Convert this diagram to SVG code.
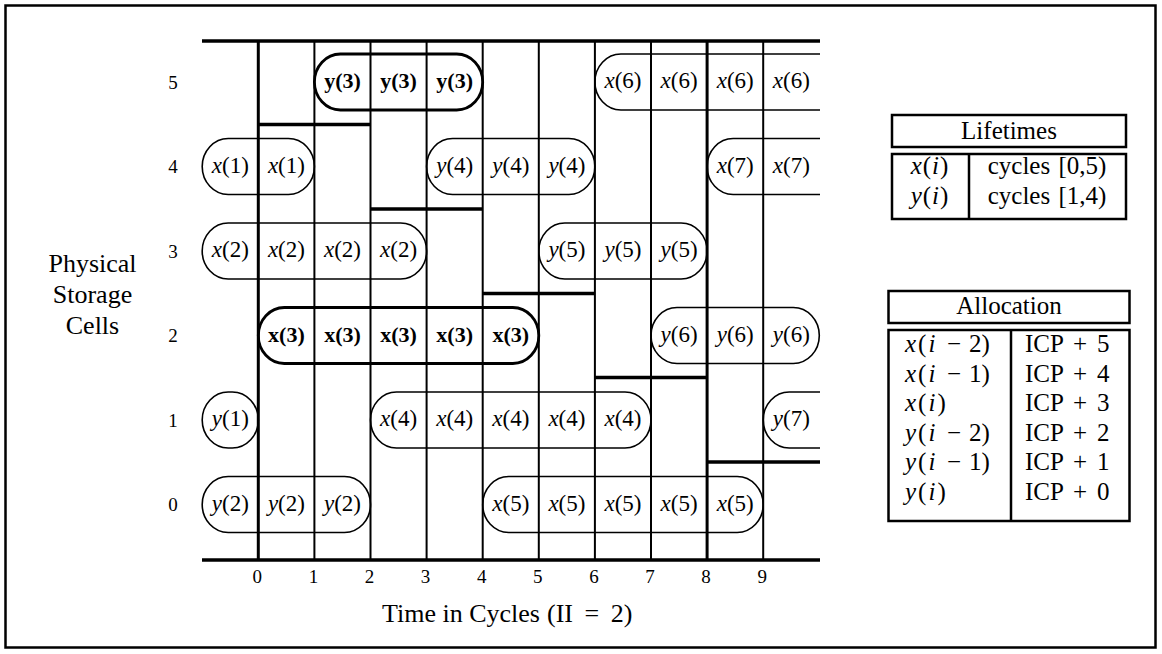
<svg xmlns="http://www.w3.org/2000/svg" width="1162" height="654" viewBox="0 0 1162 654">
  <style>
    .frame { fill: none; stroke: #000; stroke-width: 2.5; }
    .axis { stroke: #000; stroke-width: 3.4; fill: none; }
    .grid { stroke: #000; stroke-width: 2; fill: none; }
    .grid-major { stroke: #000; stroke-width: 3; fill: none; }
    .part { stroke: #000; stroke-width: 3.4; fill: none; }
    .life { fill: none; stroke: #000; stroke-width: 1.6; }
    .life-bold { fill: none; stroke: #000; stroke-width: 2.8; }
    .lbl { font-family: "Liberation Serif", "Times New Roman", serif; font-size: 23px; text-anchor: middle; fill: #000; }
    .lbl-bold { font-family: "Liberation Serif", "Times New Roman", serif; font-size: 22px; font-weight: bold; text-anchor: middle; fill: #000; }
    .it { font-style: italic; }
    .num { font-family: "Liberation Serif", "Times New Roman", serif; font-size: 19px; text-anchor: middle; fill: #000; }
    .big { font-family: "Liberation Serif", "Times New Roman", serif; font-size: 26px; text-anchor: middle; fill: #000; }
    .cap { font-family: "Liberation Serif", "Times New Roman", serif; font-size: 26px; fill: #000; }
    .tbl { font-family: "Liberation Serif", "Times New Roman", serif; font-size: 25px; fill: #000; }
    .box { fill: none; stroke: #000; stroke-width: 2.5; }
  </style>
  <defs>
    <clipPath id="plot">
      <rect x="195" y="30" width="625" height="540"/>
    </clipPath>
  </defs>

  <rect class="frame" x="5.5" y="5.5" width="1150" height="642"/>

  <!-- time grid -->
  <g id="grid">
    <line class="axis" x1="202" y1="41" x2="820" y2="41"/>
    <line class="axis" x1="202" y1="560" x2="820" y2="560"/>
    <line class="grid-major" x1="258.3" y1="41" x2="258.3" y2="560"/>
    <line class="grid" x1="314.4" y1="41" x2="314.4" y2="560"/>
    <line class="grid" x1="370.5" y1="41" x2="370.5" y2="560"/>
    <line class="grid" x1="426.6" y1="41" x2="426.6" y2="560"/>
    <line class="grid" x1="482.7" y1="41" x2="482.7" y2="560"/>
    <line class="grid" x1="538.8" y1="41" x2="538.8" y2="560"/>
    <line class="grid" x1="594.9" y1="41" x2="594.9" y2="560"/>
    <line class="grid" x1="651" y1="41" x2="651" y2="560"/>
    <line class="grid-major" x1="707.1" y1="41" x2="707.1" y2="560"/>
    <line class="grid" x1="763.2" y1="41" x2="763.2" y2="560"/>
  </g>

  <!-- register boundaries (staircase) -->
  <g id="connectors">
    <line class="part" x1="258.3" y1="124.5" x2="370.5" y2="124.5"/>
    <line class="part" x1="370.5" y1="209" x2="482.7" y2="209"/>
    <line class="part" x1="482.7" y1="293.5" x2="594.9" y2="293.5"/>
    <line class="part" x1="594.9" y1="377.5" x2="707.1" y2="377.5"/>
    <line class="part" x1="707.1" y1="462" x2="820" y2="462"/>
  </g>

  <!-- row numbers -->
  <g id="rows">
    <text class="num" x="173" y="88.5">5</text>
    <text class="num" x="173" y="173">4</text>
    <text class="num" x="173" y="257.5">3</text>
    <text class="num" x="173" y="342">2</text>
    <text class="num" x="173" y="426.5">1</text>
    <text class="num" x="173" y="511">0</text>
  </g>

  <!-- cycle numbers -->
  <g id="cycles">
    <text class="num" x="257.3" y="583.3">0</text>
    <text class="num" x="313.4" y="583.3">1</text>
    <text class="num" x="369.5" y="583.3">2</text>
    <text class="num" x="425.6" y="583.3">3</text>
    <text class="num" x="481.7" y="583.3">4</text>
    <text class="num" x="537.8" y="583.3">5</text>
    <text class="num" x="593.9" y="583.3">6</text>
    <text class="num" x="650" y="583.3">7</text>
    <text class="num" x="706.1" y="583.3">8</text>
    <text class="num" x="762.2" y="583.3">9</text>
  </g>

  <g id="y-label">
    <text class="big" x="92.5" y="271.7">Physical</text>
    <text class="big" x="92.5" y="303">Storage</text>
    <text class="big" x="92.5" y="334.3">Cells</text>
  </g>

  <g id="x-label">
    <text class="cap" y="621.7"><tspan x="382">Time in Cycles</tspan><tspan x="547" word-spacing="5">(II = 2)</tspan></text>
  </g>

  <!-- lifetimes, row 5 -->
  <g id="y3">
    <rect class="life-bold" x="314.4" y="54" width="168.3" height="56" rx="26" ry="28"/>
    <text class="lbl-bold" x="342.5" y="88">y(3)</text>
    <text class="lbl-bold" x="398.6" y="88">y(3)</text>
    <text class="lbl-bold" x="454.7" y="88">y(3)</text>
  </g>
  <g id="x6">
    <rect class="life" clip-path="url(#plot)" x="594.9" y="54" width="260" height="56" rx="26" ry="28"/>
    <text class="lbl" x="623" y="88"><tspan class="it">x</tspan>(6)</text>
    <text class="lbl" x="679.1" y="88"><tspan class="it">x</tspan>(6)</text>
    <text class="lbl" x="735.2" y="88"><tspan class="it">x</tspan>(6)</text>
    <text class="lbl" x="791.3" y="88"><tspan class="it">x</tspan>(6)</text>
  </g>

  <!-- row 4 -->
  <g id="x1">
    <rect class="life" x="202.2" y="138.5" width="112.2" height="56" rx="26" ry="28"/>
    <text class="lbl" x="230.3" y="172.5"><tspan class="it">x</tspan>(1)</text>
    <text class="lbl" x="286.4" y="172.5"><tspan class="it">x</tspan>(1)</text>
  </g>
  <g id="y4">
    <rect class="life" x="426.6" y="138.5" width="168.3" height="56" rx="26" ry="28"/>
    <text class="lbl" x="454.7" y="172.5"><tspan class="it">y</tspan>(4)</text>
    <text class="lbl" x="510.8" y="172.5"><tspan class="it">y</tspan>(4)</text>
    <text class="lbl" x="566.9" y="172.5"><tspan class="it">y</tspan>(4)</text>
  </g>
  <g id="x7">
    <rect class="life" clip-path="url(#plot)" x="707.1" y="138.5" width="160" height="56" rx="26" ry="28"/>
    <text class="lbl" x="735.2" y="172.5"><tspan class="it">x</tspan>(7)</text>
    <text class="lbl" x="791.3" y="172.5"><tspan class="it">x</tspan>(7)</text>
  </g>

  <!-- row 3 -->
  <g id="x2">
    <rect class="life" x="202.2" y="223" width="224.4" height="56" rx="26" ry="28"/>
    <text class="lbl" x="230.3" y="257"><tspan class="it">x</tspan>(2)</text>
    <text class="lbl" x="286.4" y="257"><tspan class="it">x</tspan>(2)</text>
    <text class="lbl" x="342.5" y="257"><tspan class="it">x</tspan>(2)</text>
    <text class="lbl" x="398.6" y="257"><tspan class="it">x</tspan>(2)</text>
  </g>
  <g id="y5">
    <rect class="life" x="538.8" y="223" width="168.3" height="56" rx="26" ry="28"/>
    <text class="lbl" x="566.9" y="257"><tspan class="it">y</tspan>(5)</text>
    <text class="lbl" x="623" y="257"><tspan class="it">y</tspan>(5)</text>
    <text class="lbl" x="679.1" y="257"><tspan class="it">y</tspan>(5)</text>
  </g>

  <!-- row 2 -->
  <g id="x3">
    <rect class="life-bold" x="258.3" y="307.5" width="280.5" height="56" rx="26" ry="28"/>
    <text class="lbl-bold" x="286.4" y="341.5">x(3)</text>
    <text class="lbl-bold" x="342.5" y="341.5">x(3)</text>
    <text class="lbl-bold" x="398.6" y="341.5">x(3)</text>
    <text class="lbl-bold" x="454.7" y="341.5">x(3)</text>
    <text class="lbl-bold" x="510.8" y="341.5">x(3)</text>
  </g>
  <g id="y6">
    <rect class="life" x="651" y="307.5" width="168.3" height="56" rx="26" ry="28"/>
    <text class="lbl" x="679.1" y="341.5"><tspan class="it">y</tspan>(6)</text>
    <text class="lbl" x="735.2" y="341.5"><tspan class="it">y</tspan>(6)</text>
    <text class="lbl" x="791.3" y="341.5"><tspan class="it">y</tspan>(6)</text>
  </g>

  <!-- row 1 -->
  <g id="y1">
    <rect class="life" x="202.2" y="392" width="56.1" height="56" rx="26" ry="28"/>
    <text class="lbl" x="230.3" y="426"><tspan class="it">y</tspan>(1)</text>
  </g>
  <g id="x4">
    <rect class="life" x="370.5" y="392" width="280.5" height="56" rx="26" ry="28"/>
    <text class="lbl" x="398.6" y="426"><tspan class="it">x</tspan>(4)</text>
    <text class="lbl" x="454.7" y="426"><tspan class="it">x</tspan>(4)</text>
    <text class="lbl" x="510.8" y="426"><tspan class="it">x</tspan>(4)</text>
    <text class="lbl" x="566.9" y="426"><tspan class="it">x</tspan>(4)</text>
    <text class="lbl" x="623" y="426"><tspan class="it">x</tspan>(4)</text>
  </g>
  <g id="y7">
    <rect class="life" clip-path="url(#plot)" x="763.2" y="392" width="120" height="56" rx="26" ry="28"/>
    <text class="lbl" x="791.3" y="426"><tspan class="it">y</tspan>(7)</text>
  </g>

  <!-- row 0 -->
  <g id="y2">
    <rect class="life" x="202.2" y="476.5" width="168.3" height="56" rx="26" ry="28"/>
    <text class="lbl" x="230.3" y="510.5"><tspan class="it">y</tspan>(2)</text>
    <text class="lbl" x="286.4" y="510.5"><tspan class="it">y</tspan>(2)</text>
    <text class="lbl" x="342.5" y="510.5"><tspan class="it">y</tspan>(2)</text>
  </g>
  <g id="x5">
    <rect class="life" x="482.7" y="476.5" width="280.5" height="56" rx="26" ry="28"/>
    <text class="lbl" x="510.8" y="510.5"><tspan class="it">x</tspan>(5)</text>
    <text class="lbl" x="566.9" y="510.5"><tspan class="it">x</tspan>(5)</text>
    <text class="lbl" x="623" y="510.5"><tspan class="it">x</tspan>(5)</text>
    <text class="lbl" x="679.1" y="510.5"><tspan class="it">x</tspan>(5)</text>
    <text class="lbl" x="735.2" y="510.5"><tspan class="it">x</tspan>(5)</text>
  </g>

  <!-- lifetimes table -->
  <g id="lifetimes">
    <rect class="box" x="892" y="115" width="234" height="32"/>
    <text class="tbl" x="1009" y="139" text-anchor="middle">Lifetimes</text>
    <rect class="box" x="892" y="154" width="234" height="65"/>
    <line class="box" x1="969" y1="154" x2="969" y2="219"/>
    <text class="tbl" x="930" y="174" text-anchor="middle" letter-spacing="1"><tspan class="it">x</tspan>(<tspan class="it">i</tspan>)</text>
    <text class="tbl" x="930" y="204" text-anchor="middle" letter-spacing="1"><tspan class="it">y</tspan>(<tspan class="it">i</tspan>)</text>
    <text class="tbl" x="1047" y="174" text-anchor="middle" word-spacing="2">cycles [0,5)</text>
    <text class="tbl" x="1047" y="204" text-anchor="middle" word-spacing="2">cycles [1,4)</text>
  </g>

  <!-- allocation table -->
  <g id="allocation">
    <rect class="box" x="888.5" y="291" width="241" height="32"/>
    <text class="tbl" x="1009" y="313.5" text-anchor="middle">Allocation</text>
    <rect class="box" x="888.5" y="330" width="241" height="191"/>
    <line class="box" x1="1011" y1="330" x2="1011" y2="521"/>
    <text class="tbl" y="352" letter-spacing="2"><tspan x="905" class="it">x</tspan>(<tspan class="it">i</tspan><tspan x="947" letter-spacing="0">−</tspan><tspan x="969" letter-spacing="0">2)</tspan></text>
    <text class="tbl" y="381.5" letter-spacing="2"><tspan x="905" class="it">x</tspan>(<tspan class="it">i</tspan><tspan x="947" letter-spacing="0">−</tspan><tspan x="969" letter-spacing="0">1)</tspan></text>
    <text class="tbl" y="411" letter-spacing="2"><tspan x="905" class="it">x</tspan>(<tspan class="it">i</tspan>)</text>
    <text class="tbl" y="440.5" letter-spacing="2"><tspan x="905" class="it">y</tspan>(<tspan class="it">i</tspan><tspan x="947" letter-spacing="0">−</tspan><tspan x="969" letter-spacing="0">2)</tspan></text>
    <text class="tbl" y="470" letter-spacing="2"><tspan x="905" class="it">y</tspan>(<tspan class="it">i</tspan><tspan x="947" letter-spacing="0">−</tspan><tspan x="969" letter-spacing="0">1)</tspan></text>
    <text class="tbl" y="499.5" letter-spacing="2"><tspan x="905" class="it">y</tspan>(<tspan class="it">i</tspan>)</text>
    <text class="tbl" y="352"><tspan x="1025">ICP</tspan><tspan x="1073">+</tspan><tspan x="1097">5</tspan></text>
    <text class="tbl" y="381.5"><tspan x="1025">ICP</tspan><tspan x="1073">+</tspan><tspan x="1097">4</tspan></text>
    <text class="tbl" y="411"><tspan x="1025">ICP</tspan><tspan x="1073">+</tspan><tspan x="1097">3</tspan></text>
    <text class="tbl" y="440.5"><tspan x="1025">ICP</tspan><tspan x="1073">+</tspan><tspan x="1097">2</tspan></text>
    <text class="tbl" y="470"><tspan x="1025">ICP</tspan><tspan x="1073">+</tspan><tspan x="1097">1</tspan></text>
    <text class="tbl" y="499.5"><tspan x="1025">ICP</tspan><tspan x="1073">+</tspan><tspan x="1097">0</tspan></text>
  </g>
</svg>
